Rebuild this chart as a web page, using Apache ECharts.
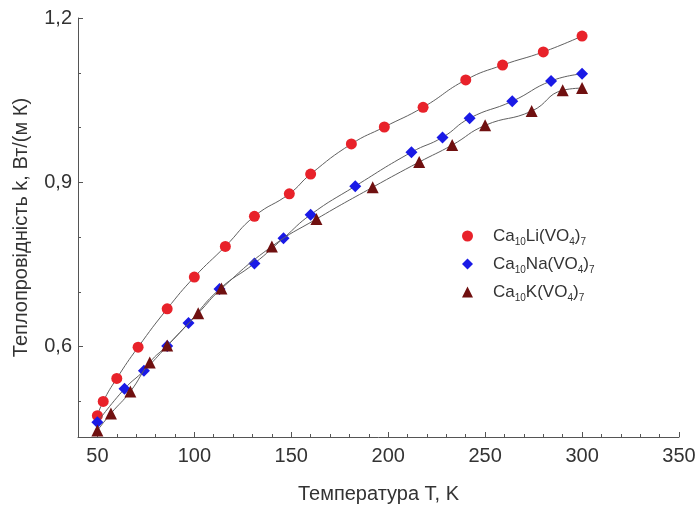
<!DOCTYPE html>
<html>
<head>
<meta charset="utf-8">
<script src="https://cdn.jsdelivr.net/npm/echarts@6/dist/echarts.min.js"></script>
<style>
html,body{margin:0;padding:0;background:#fff;}
#chart{width:698px;height:508px;}
</style>
</head>
<body>
<div id="chart"></div>
<script>
// Data
var liT = [50, 53, 60, 71, 86, 100, 116, 131, 149, 160, 181, 198, 218, 240, 259, 280, 300];
var liK = [0.474, 0.500, 0.542, 0.599, 0.669, 0.727, 0.783, 0.838, 0.879, 0.915, 0.970, 1.001, 1.037, 1.087, 1.114, 1.138, 1.167];

var naT = [50, 64, 74, 86, 97, 113, 131, 146, 160, 183, 212, 228, 242, 264, 284, 300];
var naK = [0.462, 0.523, 0.556, 0.601, 0.643, 0.705, 0.752, 0.798, 0.841, 0.893, 0.955, 0.982, 1.017, 1.048, 1.085, 1.098];

var kT = [50, 57, 67, 77, 86, 102, 114, 140, 163, 192, 216, 233, 250, 274, 290, 300];
var kK = [0.447, 0.478, 0.518, 0.571, 0.602, 0.661, 0.706, 0.783, 0.833, 0.891, 0.937, 0.968, 1.004, 1.030, 1.068, 1.072];

var seriesNames = ['Ca10Li(VO4)7', 'Ca10Na(VO4)7', 'Ca10K(VO4)7'];
var seriesLabels = ['Ca{s|10}Li(VO{s|4}){s|7}', 'Ca{s|10}Na(VO{s|4}){s|7}', 'Ca{s|10}K(VO{s|4}){s|7}'];

var xTicks = [50, 100, 150, 200, 250, 300, 350];
var xMinorTicks = [40, 50, 60, 70, 80, 90, 100, 110, 120, 130, 140, 150, 160, 170, 180, 190, 200, 210, 220, 230, 240, 250, 260, 270, 280, 290, 300, 310, 320, 330, 340, 350];
var yTicks = [0.6, 0.9, 1.2];
var yMinorTicks = [0.5, 0.6, 0.7, 0.8, 0.9, 1.0, 1.1, 1.2];

var xName = 'Температура T, K';
var yName = 'Теплопровідність k, Вт/(м К)';

function pairs(xs, ys) {
  var out = [];
  for (var i = 0; i < xs.length; i++) out.push([xs[i], ys[i]]);
  return out;
}

var colors = ['#e8222a', '#1a1ae6', '#701010'];
var symbols = ['circle', 'diamond', 'triangle'];
var sizes = [11, 12, 12];
var datasets = [pairs(liT, liK), pairs(naT, naK), pairs(kT, kK)];

var series = [];
for (var i = 0; i < 3; i++) {
  series.push({
    name: seriesNames[i],
    type: 'line',
    data: datasets[i],
    smooth: 0.5,
    symbol: symbols[i],
    symbolSize: sizes[i],
    showSymbol: true,
    itemStyle: { color: colors[i], opacity: 1 },
    lineStyle: { color: '#606060', width: 1 },
    emphasis: { disabled: true },
    z: 2 + i
  });
}

var chart = echarts.init(document.getElementById('chart'), null, { renderer: 'canvas' });

var axisColor = '#555';
var labelColor = '#333';
var fontFamily = '"Liberation Sans", Arial, sans-serif';

chart.setOption({
  animation: false,
  backgroundColor: '#fff',
  grid: { left: 78, right: 19, top: 18, bottom: 71, outerBoundsMode: 'none', containLabel: false },
  legend: {
    orient: 'vertical',
    left: 457,
    top: 220,
    itemWidth: 11,
    itemHeight: 11,
    itemGap: 6,
    data: [
      { name: seriesNames[0], icon: 'circle' },
      { name: seriesNames[1], icon: 'diamond' },
      { name: seriesNames[2], icon: 'triangle' }
    ],
    formatter: function (name) {
      return seriesLabels[seriesNames.indexOf(name)];
    },
    textStyle: {
      fontFamily: fontFamily,
      fontSize: 17,
      color: labelColor,
      lineHeight: 22,
      padding: [0, 0, 0, 15],
      rich: {
        s: { fontSize: 10, verticalAlign: 'bottom', lineHeight: 10, color: labelColor, fontFamily: fontFamily }
      }
    }
  },
  xAxis: [{
    type: 'value',
    min: 40,
    max: 350,
    name: xName,
    nameLocation: 'middle',
    nameGap: 47,
    nameTextStyle: { fontFamily: fontFamily, fontSize: 20, color: labelColor },
    axisLine: { show: true, lineStyle: { color: axisColor, width: 1 } },
    axisTick: { show: true, inside: true, length: 3, customValues: xMinorTicks, lineStyle: { color: axisColor } },
    axisLabel: {
      customValues: xTicks, margin: 9,
      fontFamily: fontFamily, fontSize: 20, color: labelColor
    },
    splitLine: { show: false }
  }, {
    type: 'value',
    min: 40,
    max: 350,
    position: 'bottom',
    axisLine: { show: false },
    axisTick: { show: true, inside: true, length: 5, customValues: xTicks, lineStyle: { color: axisColor } },
    axisLabel: { show: false },
    splitLine: { show: false }
  }],
  yAxis: [{
    type: 'value',
    min: 0.435,
    max: 1.2,
    name: yName,
    nameLocation: 'middle',
    nameGap: 47,
    nameTextStyle: { fontFamily: fontFamily, fontSize: 20, color: labelColor },
    axisLine: { show: true, lineStyle: { color: axisColor, width: 1 } },
    axisTick: { show: true, inside: true, length: 3, customValues: yMinorTicks, lineStyle: { color: axisColor } },
    axisLabel: {
      customValues: yTicks, margin: 6,
      fontFamily: fontFamily, fontSize: 20, color: labelColor,
      formatter: function (v) { return v.toFixed(1).replace('.', ','); }
    },
    splitLine: { show: false }
  }, {
    type: 'value',
    min: 0.435,
    max: 1.2,
    position: 'left',
    axisLine: { show: false },
    axisTick: { show: true, inside: true, length: 5, customValues: yTicks, lineStyle: { color: axisColor } },
    axisLabel: { show: false },
    splitLine: { show: false }
  }],
  series: series
});
</script>
</body>
</html>
